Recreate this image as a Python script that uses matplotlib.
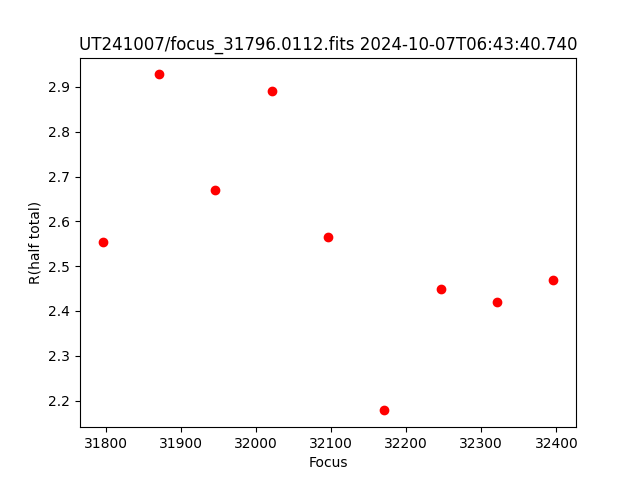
import matplotlib
matplotlib.use("Agg")
import matplotlib.pyplot as plt

focus = [31796, 31871, 31946, 32021, 32096, 32171, 32246, 32321, 32396]
r_half = [2.553, 2.928, 2.669, 2.892, 2.564, 2.178, 2.450, 2.421, 2.470]

fig, ax = plt.subplots(figsize=(6.4, 4.8), dpi=100)
ax.plot(focus, r_half, 'ro')
ax.set_xlabel("Focus")
ax.set_ylabel("R(half total)")
ax.set_title("UT241007/focus_31796.0112.fits 2024-10-07T06:43:40.740")
fig.savefig("out.png")
